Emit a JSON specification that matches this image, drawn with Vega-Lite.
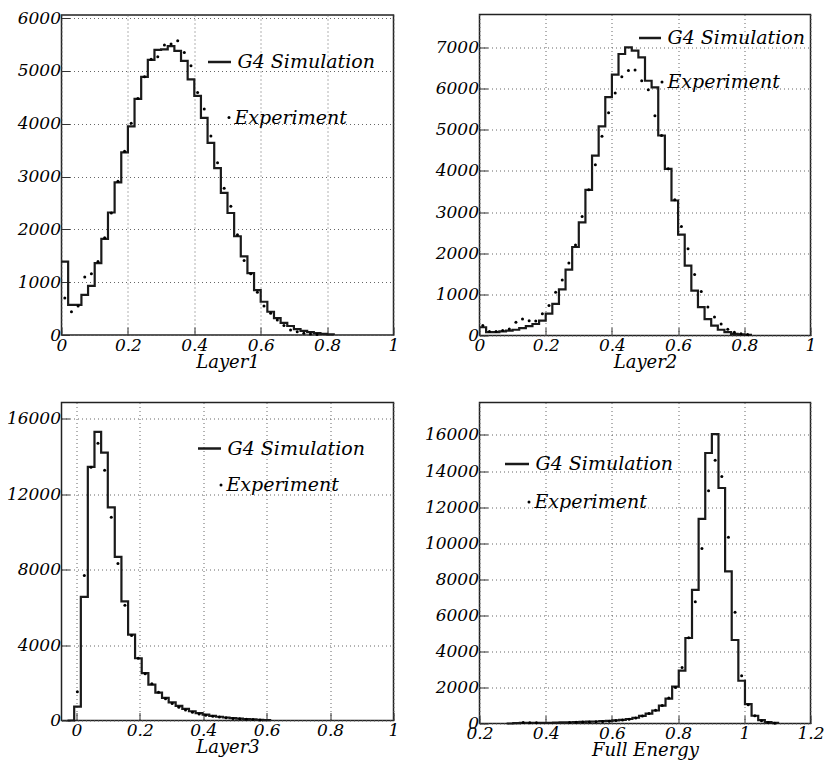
{
  "$schema": "https://vega.github.io/schema/vega-lite/v6.json",
  "background": "white",
  "padding": {"left": 5.5, "top": 7.5, "right": 5, "bottom": 0},
  "columns": 2,
  "bounds": "flush",
  "center": true,
  "spacing": {"row": 67, "column": 86},
  "resolve": {"scale": {"stroke": "independent", "shape": "independent"}},
  "config": {
    "view": {"stroke": "#222", "strokeWidth": 1.5},
    "axis": {
      "labelFont": "DejaVu Serif", "labelFontStyle": "italic", "labelFontSize": 17, "labelColor": "black",
      "titleFont": "DejaVu Serif", "titleFontStyle": "italic", "titleFontWeight": "normal", "titleFontSize": 18, "titleColor": "black",
      "domain": false, "gridColor": "#666", "gridDash": [1, 3], "gridWidth": 1,
      "tickColor": "#333", "tickWidth": 1, "labelFlush": false, "labelOverlap": false, "titlePadding": 0
    },
    "axisX": {"labelPadding": 10},
    "axisY": {"labelPadding": 9},
    "legend": {
      "labelFont": "DejaVu Serif", "labelFontStyle": "italic", "labelFontSize": 19, "labelColor": "black",
      "padding": 0, "orient": "none", "title": null
    }
  },
  "concat": [
    {
      "width": 332, "height": 320,
      "layer": [
        {
          "data": {"values": [
            {"x":0,"y":1390},{"x":0.02,"y":570},{"x":0.04,"y":570},{"x":0.06,"y":760},{"x":0.08,"y":930},{"x":0.10,"y":1360},{"x":0.12,"y":1820},{"x":0.14,"y":2320},{"x":0.16,"y":2890},{"x":0.18,"y":3460},{"x":0.20,"y":3950},{"x":0.22,"y":4470},{"x":0.24,"y":4890},{"x":0.26,"y":5210},{"x":0.28,"y":5400},{"x":0.30,"y":5410},{"x":0.32,"y":5470},{"x":0.34,"y":5380},{"x":0.36,"y":5190},{"x":0.38,"y":4840},{"x":0.40,"y":4530},{"x":0.42,"y":4110},{"x":0.44,"y":3640},{"x":0.46,"y":3160},{"x":0.48,"y":2690},{"x":0.50,"y":2310},{"x":0.52,"y":1870},{"x":0.54,"y":1490},{"x":0.56,"y":1170},{"x":0.58,"y":850},{"x":0.60,"y":630},{"x":0.62,"y":440},{"x":0.64,"y":320},{"x":0.66,"y":230},{"x":0.68,"y":170},{"x":0.70,"y":110},{"x":0.72,"y":80},{"x":0.74,"y":55},{"x":0.76,"y":35},{"x":0.78,"y":20},{"x":0.80,"y":10},{"x":0.82,"y":0}
          ]},
          "mark": {"type": "line", "interpolate": "step-after", "strokeWidth": 2.2, "color": "#1a1a1a"},
          "encoding": {
            "x": {"field": "x", "type": "quantitative", "title": "Layer1",
              "scale": {"domain": [0, 1], "nice": false, "zero": false},
              "axis": {"values": [0,0.05,0.1,0.15,0.2,0.25,0.3,0.35,0.4,0.45,0.5,0.55,0.6,0.65,0.7,0.75,0.8,0.85,0.9,0.95,1], "format": "~g",
                "labelExpr": "abs(datum.value*5 - round(datum.value*5)) < 1e-6 ? datum.label : ''",
                "gridOpacity": {"condition": {"test": "abs(datum.value*5 - round(datum.value*5)) < 1e-6", "value": 1}, "value": 0},
                "tickSize": {"condition": {"test": "abs(datum.value*5 - round(datum.value*5)) < 1e-6", "value": -8}, "value": -4}}},
            "y": {"field": "y", "type": "quantitative", "title": null,
              "scale": {"domain": [0, 6060], "nice": false},
              "axis": {"values": [0,250,500,750,1000,1250,1500,1750,2000,2250,2500,2750,3000,3250,3500,3750,4000,4250,4500,4750,5000,5250,5500,5750,6000], "format": "d",
                "labelExpr": "datum.value % 1000 === 0 ? datum.label : ''",
                "gridOpacity": {"condition": {"test": "datum.value % 1000 === 0", "value": 1}, "value": 0},
                "tickSize": {"condition": {"test": "datum.value % 1000 === 0", "value": -8}, "value": -4}}},
            "stroke": {"datum": "G4 Simulation", "scale": {"range": ["#1a1a1a"]},
              "legend": {"symbolType": "stroke", "symbolSize": 529, "symbolStrokeWidth": 2.5, "symbolStrokeColor": "#111", "labelOffset": 5, "legendX": 145, "legendY": 34}}
          }
        },
        {
          "data": {"values": [
            {"x":0.01,"y":700},{"x":0.03,"y":440},{"x":0.05,"y":550},{"x":0.07,"y":1100},{"x":0.09,"y":1160},{"x":0.11,"y":1390},{"x":0.13,"y":1840},{"x":0.15,"y":2310},{"x":0.17,"y":2910},{"x":0.19,"y":3480},{"x":0.21,"y":4010},{"x":0.23,"y":4480},{"x":0.25,"y":4890},{"x":0.27,"y":5220},{"x":0.29,"y":5270},{"x":0.31,"y":5490},{"x":0.33,"y":5510},{"x":0.35,"y":5570},{"x":0.37,"y":5350},{"x":0.39,"y":5100},{"x":0.41,"y":4590},{"x":0.43,"y":4280},{"x":0.45,"y":3770},{"x":0.47,"y":3260},{"x":0.49,"y":2780},{"x":0.51,"y":2440},{"x":0.53,"y":1900},{"x":0.55,"y":1410},{"x":0.57,"y":1160},{"x":0.59,"y":810},{"x":0.61,"y":550},{"x":0.63,"y":410},{"x":0.65,"y":285},{"x":0.67,"y":180},{"x":0.69,"y":95},{"x":0.71,"y":60},{"x":0.73,"y":35},{"x":0.75,"y":20},{"x":0.77,"y":10}
          ]},
          "mark": {"type": "point", "filled": true, "size": 9, "opacity": 1},
          "encoding": {
            "x": {"field": "x", "type": "quantitative"},
            "y": {"field": "y", "type": "quantitative"},
            "color": {"value": "black"},
            "shape": {"datum": "Experiment", "scale": {"range": ["circle"]},
              "legend": {"symbolSize": 9, "symbolFillColor": "black", "symbolStrokeColor": "black", "symbolStrokeWidth": 0, "labelOffset": -4, "legendX": 158, "legendY": 93}}
          }
        }
      ]
    },
    {
      "width": 331, "height": 321,
      "layer": [
        {
          "data": {"values": [
            {"x":0,"y":200},{"x":0.02,"y":80},{"x":0.04,"y":80},{"x":0.06,"y":100},{"x":0.08,"y":120},{"x":0.10,"y":140},{"x":0.12,"y":180},{"x":0.14,"y":230},{"x":0.16,"y":280},{"x":0.18,"y":360},{"x":0.20,"y":530},{"x":0.22,"y":770},{"x":0.24,"y":1120},{"x":0.26,"y":1600},{"x":0.28,"y":2150},{"x":0.30,"y":2750},{"x":0.32,"y":3540},{"x":0.34,"y":4370},{"x":0.36,"y":5080},{"x":0.38,"y":5790},{"x":0.40,"y":6340},{"x":0.42,"y":6840},{"x":0.44,"y":7000},{"x":0.46,"y":6920},{"x":0.48,"y":6760},{"x":0.50,"y":6190},{"x":0.52,"y":6030},{"x":0.54,"y":4860},{"x":0.56,"y":4050},{"x":0.58,"y":3280},{"x":0.60,"y":2450},{"x":0.62,"y":1700},{"x":0.64,"y":1090},{"x":0.66,"y":690},{"x":0.68,"y":400},{"x":0.70,"y":240},{"x":0.72,"y":140},{"x":0.74,"y":80},{"x":0.76,"y":40},{"x":0.78,"y":25},{"x":0.80,"y":15},{"x":0.82,"y":0}
          ]},
          "mark": {"type": "line", "interpolate": "step-after", "strokeWidth": 2.2, "color": "#1a1a1a"},
          "encoding": {
            "x": {"field": "x", "type": "quantitative", "title": "Layer2",
              "scale": {"domain": [0, 1], "nice": false, "zero": false},
              "axis": {"values": [0,0.05,0.1,0.15,0.2,0.25,0.3,0.35,0.4,0.45,0.5,0.55,0.6,0.65,0.7,0.75,0.8,0.85,0.9,0.95,1], "format": "~g",
                "labelExpr": "abs(datum.value*5 - round(datum.value*5)) < 1e-6 ? datum.label : ''",
                "gridOpacity": {"condition": {"test": "abs(datum.value*5 - round(datum.value*5)) < 1e-6", "value": 1}, "value": 0},
                "tickSize": {"condition": {"test": "abs(datum.value*5 - round(datum.value*5)) < 1e-6", "value": -8}, "value": -4}}},
            "y": {"field": "y", "type": "quantitative", "title": null,
              "scale": {"domain": [0, 7800], "nice": false},
              "axis": {"values": [0,250,500,750,1000,1250,1500,1750,2000,2250,2500,2750,3000,3250,3500,3750,4000,4250,4500,4750,5000,5250,5500,5750,6000,6250,6500,6750,7000,7250,7500,7750], "format": "d",
                "labelExpr": "datum.value % 1000 === 0 ? datum.label : ''",
                "gridOpacity": {"condition": {"test": "datum.value % 1000 === 0", "value": 1}, "value": 0},
                "tickSize": {"condition": {"test": "datum.value % 1000 === 0", "value": -8}, "value": -4}}},
            "stroke": {"datum": "G4 Simulation", "scale": {"range": ["#1a1a1a"]},
              "legend": {"symbolType": "stroke", "symbolSize": 484, "symbolStrokeWidth": 2.5, "symbolStrokeColor": "#111", "labelOffset": 5, "legendX": 158, "legendY": 11}}
          }
        },
        {
          "data": {"values": [
            {"x":0.01,"y":240},{"x":0.03,"y":100},{"x":0.05,"y":100},{"x":0.07,"y":120},{"x":0.09,"y":160},{"x":0.11,"y":320},{"x":0.13,"y":400},{"x":0.15,"y":360},{"x":0.17,"y":350},{"x":0.19,"y":530},{"x":0.21,"y":730},{"x":0.23,"y":1050},{"x":0.25,"y":1350},{"x":0.27,"y":1760},{"x":0.29,"y":2200},{"x":0.31,"y":2890},{"x":0.33,"y":3540},{"x":0.35,"y":4150},{"x":0.37,"y":4840},{"x":0.39,"y":5410},{"x":0.41,"y":5890},{"x":0.43,"y":6290},{"x":0.45,"y":6440},{"x":0.47,"y":6450},{"x":0.49,"y":6190},{"x":0.51,"y":5970},{"x":0.53,"y":5340},{"x":0.55,"y":4860},{"x":0.57,"y":4050},{"x":0.59,"y":3300},{"x":0.61,"y":2650},{"x":0.63,"y":2110},{"x":0.65,"y":1480},{"x":0.67,"y":1070},{"x":0.69,"y":690},{"x":0.71,"y":450},{"x":0.73,"y":280},{"x":0.75,"y":150},{"x":0.77,"y":80},{"x":0.79,"y":40},{"x":0.81,"y":25}
          ]},
          "mark": {"type": "point", "filled": true, "size": 9, "opacity": 1},
          "encoding": {
            "x": {"field": "x", "type": "quantitative"},
            "y": {"field": "y", "type": "quantitative"},
            "color": {"value": "black"},
            "shape": {"datum": "Experiment", "scale": {"range": ["circle"]},
              "legend": {"symbolSize": 9, "symbolFillColor": "black", "symbolStrokeColor": "black", "symbolStrokeWidth": 0, "labelOffset": -4, "legendX": 173, "legendY": 58}}
          }
        }
      ]
    },
    {
      "width": 332, "height": 318,
      "layer": [
        {
          "data": {"values": [
            {"x":-0.028,"y":0},{"x":-0.007,"y":740},{"x":0.014,"y":6550},{"x":0.036,"y":13450},{"x":0.057,"y":15300},{"x":0.078,"y":14200},{"x":0.099,"y":11300},{"x":0.121,"y":8670},{"x":0.142,"y":6320},{"x":0.163,"y":4550},{"x":0.185,"y":3300},{"x":0.206,"y":2510},{"x":0.227,"y":1900},{"x":0.249,"y":1480},{"x":0.270,"y":1200},{"x":0.291,"y":960},{"x":0.313,"y":780},{"x":0.334,"y":620},{"x":0.355,"y":490},{"x":0.376,"y":390},{"x":0.398,"y":310},{"x":0.419,"y":250},{"x":0.440,"y":200},{"x":0.462,"y":160},{"x":0.483,"y":130},{"x":0.504,"y":100},{"x":0.525,"y":80},{"x":0.547,"y":60},{"x":0.568,"y":40},{"x":0.589,"y":20},{"x":0.611,"y":0}
          ]},
          "mark": {"type": "line", "interpolate": "step-after", "strokeWidth": 2.2, "color": "#1a1a1a"},
          "encoding": {
            "x": {"field": "x", "type": "quantitative", "title": "Layer3",
              "scale": {"domain": [-0.047, 1], "nice": false, "zero": false},
              "axis": {"values": [0,0.05,0.1,0.15,0.2,0.25,0.3,0.35,0.4,0.45,0.5,0.55,0.6,0.65,0.7,0.75,0.8,0.85,0.9,0.95,1], "format": "~g",
                "labelExpr": "abs(datum.value*5 - round(datum.value*5)) < 1e-6 ? datum.label : ''",
                "gridOpacity": {"condition": {"test": "abs(datum.value*5 - round(datum.value*5)) < 1e-6", "value": 1}, "value": 0},
                "tickSize": {"condition": {"test": "abs(datum.value*5 - round(datum.value*5)) < 1e-6", "value": -8}, "value": -4}}},
            "y": {"field": "y", "type": "quantitative", "title": null,
              "scale": {"domain": [0, 16860], "nice": false},
              "axis": {"values": [0,500,1000,1500,2000,2500,3000,3500,4000,4500,5000,5500,6000,6500,7000,7500,8000,8500,9000,9500,10000,10500,11000,11500,12000,12500,13000,13500,14000,14500,15000,15500,16000,16500], "format": "d",
                "labelExpr": "datum.value % 2000 === 0 ? datum.label : ''",
                "gridOpacity": {"condition": {"test": "datum.value % 2000 === 0", "value": 1}, "value": 0},
                "tickSize": {"condition": {"test": "datum.value % 2000 === 0", "value": -8}, "value": -4}}},
            "stroke": {"datum": "G4 Simulation", "scale": {"range": ["#1a1a1a"]},
              "legend": {"symbolType": "stroke", "symbolSize": 529, "symbolStrokeWidth": 2.5, "symbolStrokeColor": "#111", "labelOffset": 5, "legendX": 135, "legendY": 33}}
          }
        },
        {
          "data": {"values": [
            {"x":0.003,"y":1530},{"x":0.025,"y":7690},{"x":0.046,"y":13430},{"x":0.068,"y":14700},{"x":0.089,"y":13270},{"x":0.110,"y":10770},{"x":0.131,"y":8330},{"x":0.153,"y":6110},{"x":0.174,"y":4500},{"x":0.195,"y":3300},{"x":0.217,"y":2480},{"x":0.238,"y":1950},{"x":0.259,"y":1500},{"x":0.281,"y":1150},{"x":0.302,"y":900},{"x":0.323,"y":700},{"x":0.344,"y":560},{"x":0.366,"y":440},{"x":0.387,"y":350},{"x":0.408,"y":280},{"x":0.430,"y":220},{"x":0.451,"y":180},{"x":0.472,"y":140},{"x":0.494,"y":110},{"x":0.515,"y":90},{"x":0.536,"y":70},{"x":0.557,"y":50},{"x":0.579,"y":30}
          ]},
          "mark": {"type": "point", "filled": true, "size": 9, "opacity": 1},
          "encoding": {
            "x": {"field": "x", "type": "quantitative"},
            "y": {"field": "y", "type": "quantitative"},
            "color": {"value": "black"},
            "shape": {"datum": "Experiment", "scale": {"range": ["circle"]},
              "legend": {"symbolSize": 9, "symbolFillColor": "black", "symbolStrokeColor": "black", "symbolStrokeWidth": 0, "labelOffset": -4, "legendX": 150, "legendY": 73}}
          }
        }
      ]
    },
    {
      "width": 331, "height": 321,
      "layer": [
        {
          "data": {"values": [
            {"x":0.282,"y":0},{"x":0.302,"y":20},{"x":0.322,"y":30},{"x":0.342,"y":40},{"x":0.362,"y":40},{"x":0.382,"y":40},{"x":0.402,"y":40},{"x":0.422,"y":50},{"x":0.442,"y":60},{"x":0.462,"y":70},{"x":0.482,"y":80},{"x":0.502,"y":90},{"x":0.522,"y":100},{"x":0.542,"y":110},{"x":0.562,"y":130},{"x":0.582,"y":150},{"x":0.602,"y":170},{"x":0.622,"y":200},{"x":0.642,"y":250},{"x":0.662,"y":320},{"x":0.682,"y":420},{"x":0.702,"y":550},{"x":0.722,"y":720},{"x":0.742,"y":990},{"x":0.762,"y":1380},{"x":0.782,"y":2040},{"x":0.802,"y":2930},{"x":0.822,"y":4740},{"x":0.842,"y":7410},{"x":0.862,"y":11350},{"x":0.882,"y":15000},{"x":0.902,"y":16050},{"x":0.922,"y":13060},{"x":0.942,"y":8440},{"x":0.962,"y":4630},{"x":0.982,"y":2370},{"x":1.002,"y":1070},{"x":1.022,"y":430},{"x":1.042,"y":185},{"x":1.062,"y":80},{"x":1.082,"y":30},{"x":1.102,"y":0}
          ]},
          "mark": {"type": "line", "interpolate": "step-after", "strokeWidth": 2.2, "color": "#1a1a1a"},
          "encoding": {
            "x": {"field": "x", "type": "quantitative", "title": "Full Energy",
              "scale": {"domain": [0.2, 1.2], "nice": false, "zero": false},
              "axis": {"values": [0.2,0.25,0.3,0.35,0.4,0.45,0.5,0.55,0.6,0.65,0.7,0.75,0.8,0.85,0.9,0.95,1,1.05,1.1,1.15,1.2], "format": "~g",
                "labelExpr": "abs(datum.value*5 - round(datum.value*5)) < 1e-6 ? datum.label : ''",
                "gridOpacity": {"condition": {"test": "abs(datum.value*5 - round(datum.value*5)) < 1e-6", "value": 1}, "value": 0},
                "tickSize": {"condition": {"test": "abs(datum.value*5 - round(datum.value*5)) < 1e-6", "value": -8}, "value": -4}}},
            "y": {"field": "y", "type": "quantitative", "title": null,
              "scale": {"domain": [0, 17800], "nice": false},
              "axis": {"values": [0,500,1000,1500,2000,2500,3000,3500,4000,4500,5000,5500,6000,6500,7000,7500,8000,8500,9000,9500,10000,10500,11000,11500,12000,12500,13000,13500,14000,14500,15000,15500,16000,16500,17000,17500], "format": "d",
                "labelExpr": "datum.value % 2000 === 0 ? datum.label : ''",
                "gridOpacity": {"condition": {"test": "datum.value % 2000 === 0", "value": 1}, "value": 0},
                "tickSize": {"condition": {"test": "datum.value % 2000 === 0", "value": -8}, "value": -4}}},
            "stroke": {"datum": "G4 Simulation", "scale": {"range": ["#1a1a1a"]},
              "legend": {"symbolType": "stroke", "symbolSize": 576, "symbolStrokeWidth": 2.5, "symbolStrokeColor": "#111", "labelOffset": 5, "legendX": 24, "legendY": 48}}
          }
        },
        {
          "data": {"values": [
            {"x":0.332,"y":50},{"x":0.352,"y":40},{"x":0.372,"y":40},{"x":0.472,"y":60},{"x":0.492,"y":70},{"x":0.512,"y":80},{"x":0.532,"y":90},{"x":0.552,"y":100},{"x":0.572,"y":110},{"x":0.592,"y":130},{"x":0.612,"y":160},{"x":0.632,"y":190},{"x":0.652,"y":240},{"x":0.672,"y":310},{"x":0.692,"y":420},{"x":0.712,"y":560},{"x":0.732,"y":740},{"x":0.752,"y":1000},{"x":0.772,"y":1420},{"x":0.792,"y":2000},{"x":0.812,"y":3110},{"x":0.832,"y":4760},{"x":0.852,"y":6750},{"x":0.872,"y":9700},{"x":0.892,"y":12900},{"x":0.912,"y":14600},{"x":0.932,"y":13700},{"x":0.952,"y":10330},{"x":0.972,"y":6170},{"x":0.992,"y":2650},{"x":1.012,"y":1040},{"x":1.032,"y":430},{"x":1.052,"y":150},{"x":1.072,"y":60},{"x":1.092,"y":20}
          ]},
          "mark": {"type": "point", "filled": true, "size": 9, "opacity": 1},
          "encoding": {
            "x": {"field": "x", "type": "quantitative"},
            "y": {"field": "y", "type": "quantitative"},
            "color": {"value": "black"},
            "shape": {"datum": "Experiment", "scale": {"range": ["circle"]},
              "legend": {"symbolSize": 9, "symbolFillColor": "black", "symbolStrokeColor": "black", "symbolStrokeWidth": 0, "labelOffset": -4, "legendX": 40, "legendY": 90}}
          }
        }
      ]
    }
  ]
}
